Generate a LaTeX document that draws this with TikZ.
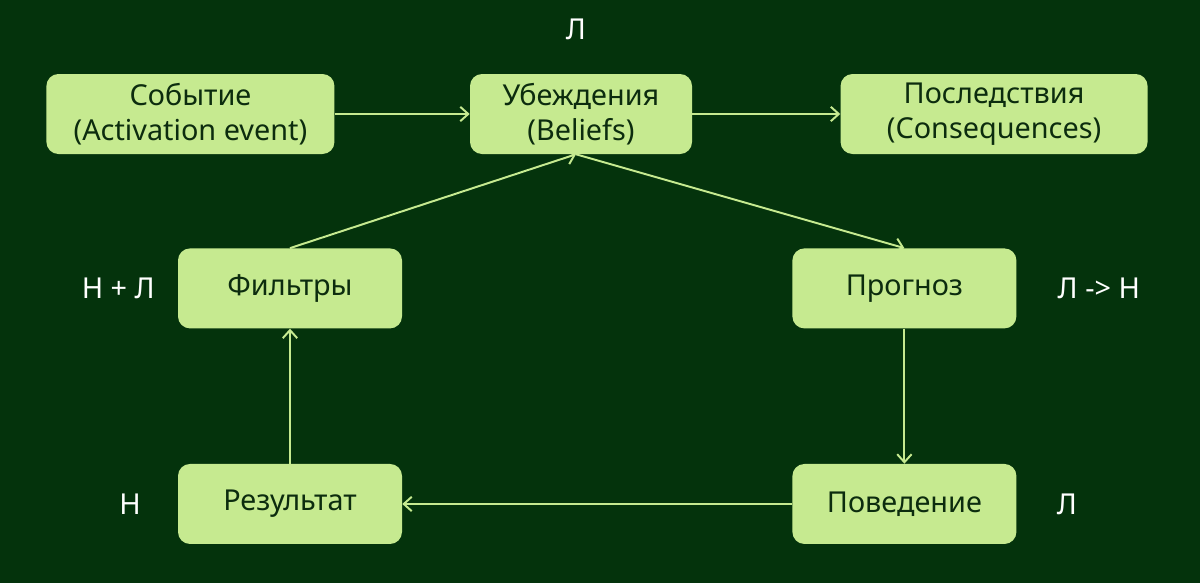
\documentclass[tikz,border=0pt]{standalone}
\usepackage{fontspec}
\setmainfont{Noto Sans}
\usepackage{xcolor}
\usepackage{tikz}
\usetikzlibrary{positioning,arrows.meta}
\definecolor{bgdark}{HTML}{04330C}
\definecolor{boxfill}{HTML}{C6EA90}
\definecolor{boxtext}{HTML}{0C2C0E}

\begin{document}
\begin{tikzpicture}[
  font=\fontsize{20.5}{24.5}\selectfont,
  box/.style={fill=boxfill, text=boxtext, rounded corners=0.3cm, align=center,
              minimum width=5.6cm, minimum height=2cm, inner sep=0pt},
  mark label/.style={text=white},
  arr/.style={-{Straight Barb[length=2mm,width=3.6mm]}, draw=boxfill, line width=1.4pt},
  node distance=0.5cm]
\fill[bgdark] (0,0) rectangle (30,-14.575);
\useasboundingbox (0,0) rectangle (30,-14.575);
% top row
\node[box, minimum width=5.55cm] (beliefs) at (14.525,-2.85) {Убеждения\\(Beliefs)};
\node[box, minimum width=7.2cm, left=3.375cm of beliefs] (event) {Событие\\(Activation event)};
\node[box, minimum width=7.675cm, right=3.7cm of beliefs] (conseq) {Последствия\\(Consequences)};
% loop
\node[box] (filters) at (7.25,-7.21) {Фильтры};
\node[box] (forecast) at (22.61,-7.21) {Прогноз};
\node[box, below=3.375cm of filters] (result) {Результат};
\node[box, below=3.375cm of forecast] (behav) {Поведение};
% marks
\node[mark label, above=0.72cm of beliefs.north, xshift=-0.125cm, anchor=south] (mbel) {Л};
\node[mark label, left=0.45cm of filters] (mfil) {Н + Л};
\node[mark label, right=0.9cm of forecast] (mfor) {Л -> Н};
\node[mark label, left=0.8cm of result] (mres) {Н};
\node[mark label, right=0.88cm of behav] (mbeh) {Л};
\draw[arr] (event) -- (beliefs);
\draw[arr] (beliefs) -- (conseq);
\draw[arr] (filters.north) -- ([xshift=-0.125cm]beliefs.south);
\draw[arr] ([xshift=-0.125cm]beliefs.south) -- (forecast.north);
\draw[arr] (forecast) -- (behav);
\draw[arr] (behav) -- (result);
\draw[arr] (result) -- (filters);
\end{tikzpicture}
\end{document}
